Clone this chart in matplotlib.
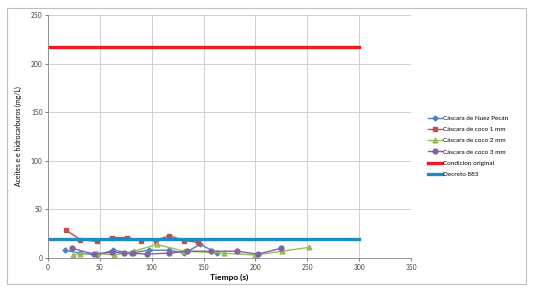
"""
Aceites e hidrocarburos vs tiempo
"""

# ==========================================================
# IMPORT LIBRARIES
# ==========================================================

import matplotlib
matplotlib.use("Agg")
import matplotlib.pyplot as plt
from matplotlib.patches import Rectangle

# ==========================================================
# DATA
# ==========================================================

nuez_x = [16, 31, 47, 63, 80, 97, 117, 131, 147, 163]
nuez_y = [8, 5, 3, 8, 5, 8, 8, 5, 14, 5]

coco1_x = [17, 31, 47, 62, 76, 90, 104, 117, 131, 145]
coco1_y = [29, 19, 17, 21, 21, 18, 18, 23, 18, 16]

coco2_x = [24, 31, 47, 64, 83, 105, 131, 170, 200, 226, 252]
coco2_y = [3, 4, 5, 3, 7, 14, 7, 5, 3, 7, 11]

coco3_x = [23, 44, 62, 73, 82, 95, 117, 134, 157, 182, 202, 225]
coco3_y = [10, 4, 6, 5, 5, 4, 5, 7, 7, 7, 4, 10]

limite_x = [0, 300]
condicion_original = [217, 217]
decreto_883 = [20, 20]

labels = [
    "Cáscara de Nuez Pecán",
    "Cáscara de coco 1 mm",
    "Cáscara de coco 2 mm",
    "Cáscara de coco 3 mm",
    "Condicion original",
    "Decreto 883",
]

x_ticks = [0, 50, 100, 150, 200, 250, 300, 350]
y_ticks = [0, 50, 100, 150, 200, 250]

# ==========================================================
# PLOT
# ==========================================================

def main():

    plt.rcParams["font.family"] = ["Lato", "DejaVu Sans"]

    fig = plt.figure(figsize=(5.36, 2.93), dpi=100)

    fig.patches.append(
        Rectangle(
            (7 / 536, 1 - 284 / 293),
            519 / 536,
            276 / 293,
            transform=fig.transFigure,
            fill=False,
            edgecolor="#BFBFBF",
            linewidth=0.8,
        )
    )

    ax = fig.add_axes([48 / 536, 1 - 258 / 293, 363 / 536, 243 / 293])

    ax.plot(nuez_x, nuez_y, color="#4F81BD", marker="D",
            markersize=2.5, linewidth=1, label=labels[0])

    ax.plot(coco1_x, coco1_y, color="#C0504D", marker="s",
            markersize=3.5, linewidth=1, label=labels[1])

    ax.plot(coco2_x, coco2_y, color="#9BBB59", marker="^",
            markersize=3.5, linewidth=1, label=labels[2])

    ax.plot(coco3_x, coco3_y, color="#8064A2", marker="o",
            markersize=3.5, linewidth=1, label=labels[3])

    ax.plot(limite_x, condicion_original, color="#EE1C25",
            linewidth=2.4, label=labels[4])

    ax.plot(limite_x, decreto_883, color="#1E8BC3",
            linewidth=2.4, label=labels[5])

    ax.set_xlim(0, 350)
    ax.set_ylim(0, 250)
    ax.set_xticks(x_ticks)
    ax.set_yticks(y_ticks)

    ax.tick_params(labelsize=4.8, length=2, color="#868686",
                   labelcolor="#404040", pad=2)

    ax.grid(True, color="#C8C8C8", linewidth=0.6)
    ax.set_axisbelow(True)

    for side in ["top", "right"]:
        ax.spines[side].set_visible(False)

    for side in ["left", "bottom"]:
        ax.spines[side].set_color("#868686")
        ax.spines[side].set_linewidth(0.6)

    ax.set_xlabel("Tiempo (s)", fontsize=6, fontweight="bold", labelpad=2)
    ax.set_ylabel("Aceites e e hidrocarburos (mg/L)", fontsize=5, labelpad=6)

    ax.legend(
        loc="center left",
        bbox_to_anchor=(1.04, 0.46),
        frameon=False,
        fontsize=4.6,
        handlelength=2.2,
        handletextpad=0.1,
        labelspacing=0.9,
        borderaxespad=0,
    )

    plt.savefig("out.png", dpi=100)

    plt.close()


if __name__ == "__main__":

    main()
